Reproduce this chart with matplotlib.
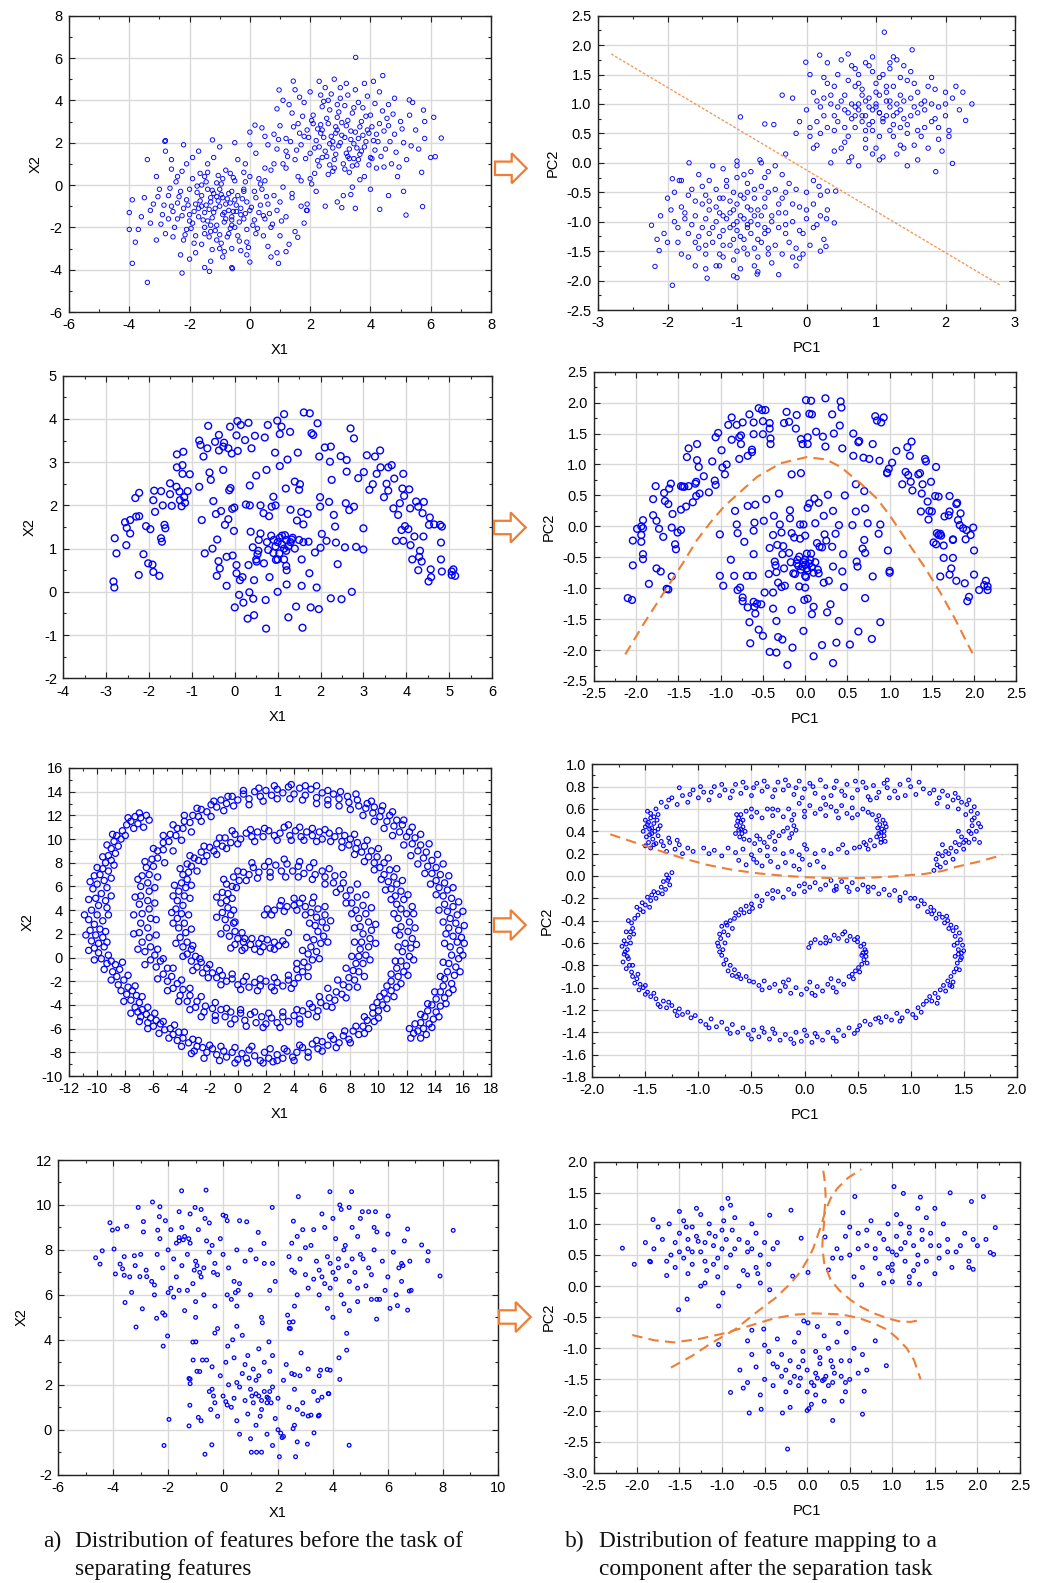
import numpy as np
import matplotlib
matplotlib.use("Agg")
import matplotlib.pyplot as plt
from matplotlib.ticker import MultipleLocator, AutoMinorLocator, FormatStrFormatter
from matplotlib.patches import Polygon

plt.rcParams['font.family'] = 'Liberation Sans'
plt.rcParams['axes.unicode_minus'] = False

W, H = 1048, 1583


def pts(s):
    # "x y, x y, ..." -> (n, 2) array
    return np.array(s.replace(',', ' ').split(), dtype=float).reshape(-1, 2)


# ---- row 1: two gaussian blobs ----
p1_low = pts("""
-1.0 -1.0, -1.3 -0.8, -0.7 -1.2, -1.5 -1.3, -0.5 -0.7, -1.2 -0.4, -0.8 -1.6, -1.8 -0.9, -0.3 -1.1, -1.1 -1.9,
-1.6 -0.5, -0.6 -0.3, -2.0 -1.4, -0.2 -1.6, -1.4 -1.7, -0.9 -0.6, -1.7 -1.1, -0.4 -0.5, -1.2 -1.3, -0.8 -0.9,
-2.1 -0.7, -0.1 -0.8, -1.5 -2.0, -0.6 -1.9, -1.9 -1.8, -1.0 -0.2, -0.3 -1.4, -1.3 -2.2, -2.2 -1.1, -0.7 -2.3,
0.0 -1.2, -1.6 0.0, -0.9 -1.4, -1.4 -0.2, -2.3 -0.3, -0.5 -2.0, -1.8 -2.4, 0.2 -0.6, -1.1 0.1, -2.4 -1.6,
0.1 -1.9, -0.2 -0.2, -1.7 -1.5, -0.6 -1.5, -1.1 -2.6, -2.0 -0.2, 0.3 -1.3, -0.4 -2.4, -1.5 0.4, -2.6 -1.0,
-1.3 -0.6, -0.9 0.3, -2.5 -2.0, 0.4 -0.2, -0.1 -2.7, -1.9 0.3, -1.6 -2.8, -0.5 0.2, 0.5 -1.6, -2.7 -0.5,
-1.0 -3.0, -2.2 -2.6, 0.6 -0.9, -0.8 0.7, -2.9 -1.4, 0.2 -2.3, -1.4 1.0, -2.4 0.4, 0.7 -2.0, -0.2 0.6,
-3.0 -0.2, -1.8 -3.2, 0.8 -0.5, -0.6 -3.0, -2.8 -2.3, -1.2 1.3, 0.9 -1.2, -3.2 -0.9, 0.3 0.3, -2.1 1.0,
-0.9 -3.4, 1.0 -2.4, -2.0 -3.5, -3.3 -1.8, 0.5 0.8, -1.7 1.6, -0.4 1.2, 1.1 -0.1, -3.5 -0.6, -1.3 -3.6,
0.6 -2.9, -2.6 1.2, 1.2 -1.5, -3.1 0.4, -0.1 -3.3, 1.3 -2.8, -2.3 -3.3, 0.2 1.5, -2.8 1.6, -3.6 -1.5,
-1.0 1.8, 1.4 -0.6, -3.7 -2.1, 0.7 -3.4, -0.6 -3.9, 1.5 -2.2, -2.2 1.9, 0.0 1.9, -3.4 1.2, 1.6 0.4,
-3.9 -0.7, -1.5 -3.9, 1.7 -1.0, 0.9 -3.2, -2.8 2.1, -4.0 -1.3, -3.9 -3.7, -3.4 -4.6, -2.25 -4.16, -1.34 -4.08,
-0.58 -3.95, 0.0 -3.64, 1.2 -3.15, 1.59 -2.47, 1.8 -1.8, 1.9 -1.2, -1.24 2.13, -2.82 2.06, -4.0 -2.1, -3.8 -2.7,
0.8 1.0, 1.2 0.8, -0.5 2.0, 0.95 -3.7, -1.15 -1.1, -0.85 -1.3, -1.45 -0.95, -0.65 -0.85, -1.25 -1.55, -0.95 -0.45,
-1.05 -0.75, -0.75 -0.65, -1.35 -1.15, -0.55 -1.25, -1.65 -0.75, -0.85 -1.75, -1.25 -0.25, -0.45 -0.95, -1.85 -1.25, -0.25 -0.65,
-1.55 -1.65, -0.65 -2.05, -2.05 -0.95, -0.15 -1.35, -1.15 -2.15, -0.95 0.05, -1.75 -0.35, -0.35 -1.75, -2.25 -1.45, 0.05 -1.05,
-1.45 0.15, -0.75 -2.45, -2.35 -0.55, 0.15 -1.65, -1.95 -2.05, -0.55 0.35, -1.35 -2.45, 0.35 -0.95, -2.55 -1.25, -0.15 0.15,
-1.65 0.55, -0.95 -2.75, 0.45 -1.45, -2.65 -0.15, -2.15 -2.35, 0.25 -2.05, -1.05 0.45, -0.35 -2.65, -2.45 0.15, 0.55 -0.55,
-1.85 -2.75, 0.65 -1.35, -0.65 0.55, -2.85 -0.95, -1.25 -3.05, 0.35 0.05, -2.25 0.65, -0.05 -2.95, 0.75 -1.85, -2.95 -1.85,
-0.2 -0.3, -1.6 -1.0, -0.7 -0.4, -1.3 -1.9, -2.0 -1.7, -0.1 -2.1, -1.5 -2.3, -0.45 -1.25, -2.4 -0.85, -1.1 -0.55,
-0.6 -1.65, -1.75 -0.05, -2.1 -2.1, 0.15 -0.3, -1.0 -2.35, -2.7 -1.6, 0.45 -2.4, -3.05 -0.55, -1.4 0.6, 0.0 0.4,
-0.85 -3.15, -2.55 -2.45, -3.3 -1.2, 1.0 -0.8, -1.9 1.3, -0.3 -3.1, -3.1 -2.6, 1.05 -1.7, -0.15 1.0, -2.6 0.75
""")
p1_high = pts("""
3.0 2.0, 2.7 2.3, 3.3 1.7, 2.5 1.6, 3.5 2.5, 2.8 1.2, 3.2 2.8, 2.2 2.1, 3.8 1.8, 2.6 2.9,
3.6 1.2, 2.0 1.5, 3.9 2.6, 2.4 2.6, 3.1 1.0, 2.9 3.2, 4.1 2.1, 1.9 2.6, 3.4 3.4, 2.3 0.9,
4.0 1.3, 2.1 3.3, 3.7 3.0, 2.6 0.5, 4.3 2.9, 1.7 1.9, 3.3 0.6, 2.9 3.8, 4.5 1.7, 1.6 2.9,
3.8 0.4, 2.4 3.7, 4.4 3.5, 1.5 1.2, 3.0 4.1, 4.8 2.4, 2.0 0.3, 3.6 3.9, 1.4 3.4, 4.2 0.8,
2.7 4.3, 5.0 3.0, 1.2 2.2, 3.4 -0.1, 4.7 1.0, 1.8 3.9, 3.9 4.2, 2.2 -0.3, 5.1 2.0, 1.1 1.0,
4.6 3.8, 2.5 4.6, 3.1 -0.5, 5.3 3.3, 1.3 3.8, 4.0 -0.2, 5.2 1.2, 1.0 2.8, 3.5 4.5, 0.9 1.7,
4.9 0.4, 2.0 4.4, 5.5 2.6, 1.7 0.2, 4.3 4.4, 2.9 -0.8, 5.6 1.7, 0.8 2.4, 3.2 4.8, 1.5 4.5,
5.4 3.9, 2.5 -1.0, 4.6 -0.5, 0.7 0.7, 5.8 3.0, 3.8 4.8, 1.4 -0.4, 5.8 2.2, 2.8 5.0, 0.6 1.9,
4.8 4.1, 6.0 1.3, 1.1 4.0, 3.5 -1.1, 5.1 -0.3, 0.4 2.7, 2.3 4.9, 6.1 3.2, 4.1 4.9, 0.9 3.6,
5.7 0.6, 1.9 -0.9, 0.5 0.2, 3.05 -1.07, 1.88 -1.2, 4.31 -1.15, 5.18 -1.42, 5.73 -1.02, 6.15 1.34, 6.35 2.22,
5.29 4.02, 5.76 3.54, 3.51 6.03, 4.41 5.17, 1.44 4.91, 0.97 4.49, 0.17 2.83, 0.0 2.5, 0.5 2.3, 3.0 4.6,
2.6 4.0, 3.6 2.2, 2.3 1.8, 3.2 1.5, 2.9 2.6, 3.7 1.6, 2.4 1.3, 4.2 2.4, 1.8 2.3, 3.4 0.9,
2.8 0.8, 4.0 3.3, 2.1 2.9, 4.6 2.8, 1.2 1.6, 3.15 2.25, 2.75 1.75, 3.45 1.95, 2.85 2.45, 3.3 1.25,
3.05 2.35, 2.65 1.95, 3.35 2.15, 2.45 2.25, 3.55 1.75, 2.85 1.45, 3.25 3.05, 2.15 1.75, 3.75 2.35, 2.55 3.15,
3.65 1.45, 1.95 2.25, 4.05 2.75, 2.35 2.85, 3.15 0.75, 2.95 3.45, 4.15 1.65, 1.85 1.25, 3.45 3.65, 2.25 1.15,
4.25 2.05, 2.05 3.05, 3.85 3.25, 2.75 0.65, 4.45 2.55, 1.65 2.45, 3.55 0.95, 2.65 3.55, 4.35 1.35, 1.55 1.65,
3.95 0.95, 2.45 3.95, 4.55 3.15, 1.35 2.05, 3.25 4.25, 4.65 2.05, 2.15 0.55, 3.75 3.65, 1.45 2.75, 4.45 0.85,
2.95 1.85, 3.35 2.55, 2.75 2.05, 3.85 2.05, 2.35 2.45, 3.25 1.35, 3.05 2.95, 2.55 1.35, 3.65 2.75, 4.05 1.25,
2.85 2.75, 3.45 1.25, 2.25 2.65, 3.95 2.45, 2.65 0.95, 3.15 3.75, 4.85 1.55, 1.75 3.25, 4.15 3.85, 2.05 0.05,
5.05 2.65, 1.25 1.35, 3.65 0.25, 4.75 3.35, 2.35 4.25, 5.35 1.85, 0.95 2.15, 3.35 -0.45, 4.95 0.85, 1.65 4.15
""")
p2_low = pts("""
-0.9 -0.95, -1.1 -0.85, -0.7 -1.05, -1.3 -1.0, -0.5 -0.9, -1.0 -0.7, -0.8 -1.2, -1.2 -1.15, -0.6 -0.75, -1.4 -0.8,
-0.4 -1.1, -0.95 -0.55, -1.05 -1.3, -0.75 -0.6, -1.5 -1.1, -0.3 -0.85, -1.2 -0.6, -0.65 -1.35, -1.6 -0.9, -0.2 -1.0,
-0.9 -1.45, -1.35 -1.35, -0.55 -0.5, -1.7 -1.2, -0.1 -0.75, -1.15 -0.4, -0.45 -1.4, -1.45 -0.55, -0.85 -0.35, -1.8 -0.75,
-0.05 -1.2, -1.25 -1.55, -0.35 -0.6, -1.55 -1.45, -0.7 -1.6, -1.0 -0.25, 0.0 -0.95, -1.9 -1.0, -0.25 -1.35, -1.65 -0.45,
-0.6 -0.25, -1.05 -1.65, 0.1 -0.7, -1.4 -0.3, -0.15 -0.45, -1.85 -1.35, -0.5 -1.7, 0.05 -1.4, -1.3 -1.75, -0.8 -0.15,
-2.0 -0.6, 0.15 -1.05, -1.7 -1.6, -0.35 -0.2, -0.95 -1.8, -1.55 -0.2, 0.2 -0.55, -2.05 -1.2, -0.2 -1.6, -1.2 -0.1,
-0.7 -1.85, 0.25 -1.3, -1.8 -0.3, -0.45 -0.05, -1.45 -1.8, 0.1 -0.3, -2.1 -0.9, -1.0 -0.05, -0.15 -1.75, 0.3 -0.8,
-1.6 -1.75, -0.65 0.0, -1.9 -0.5, 0.2 -1.5, -1.35 -0.05, -0.85 -0.5, -1.1 -1.1, -0.6 -1.1, -1.3 -0.75, -0.8 -0.8,
-1.0 -1.0, -0.4 -0.7, -1.5 -0.7, -0.7 -1.3, -1.1 -1.4, -0.3 -1.2, -1.2 -0.9, -0.9 -0.6, -1.69 0.0, -1.0 0.03,
-0.67 0.05, -2.23 -1.06, -2.18 -1.76, -1.93 -2.08, -1.43 -1.96, -1.05 -1.92, -0.71 -1.89, -0.10 -1.62, 0.4 -1.02, 0.29 -0.95,
0.28 -1.42, 0.18 -0.4, 0.3 -0.48, 0.42 -0.48, -1.93 -0.27, -1.83 -0.3, -2.15 -1.3, -2.12 -1.49, -1.2 -1.6, -0.55 -1.55,
-1.75 -0.95, 0.0 -0.5, -0.25 -0.35, -1.4 -1.2, -0.95 -1.25, -0.75 -0.9, -1.05 -0.8, -0.55 -1.15, -1.25 -1.25, -0.85 -1.05,
-0.95 -0.9, -0.8 -1.0, -1.15 -0.95, -0.65 -0.9, -1.25 -0.85, -0.85 -0.75, -1.0 -1.15, -0.7 -0.8, -1.35 -1.1, -0.5 -1.0,
-1.1 -0.65, -0.9 -1.3, -1.45 -0.95, -0.4 -0.85, -1.05 -0.5, -0.6 -1.2, -1.55 -1.25, -0.3 -1.05, -1.2 -1.4, -0.75 -0.45,
-1.65 -1.05, -0.2 -0.7, -1.0 -1.5, -0.45 -0.45, -1.4 -0.65, -0.85 -1.55, -1.75 -0.85, -0.1 -1.15, -1.3 -0.45, -0.55 -1.45,
-1.6 -1.35, -0.35 -1.55, -1.15 -0.3, -0.65 -0.4, -1.85 -1.1, 0.0 -0.8, -1.45 -1.55, -0.75 -1.75, -1.95 -0.8, -0.15 -1.45,
-1.25 -1.75, -0.9 -0.2, -1.7 -0.55, -0.4 -1.9, 0.1 -1.1, -2.0 -1.35, -0.55 -0.15, -1.5 -0.4, 0.2 -0.9, -1.0 -1.95,
-0.85 -1.1, -1.05 -1.05, -0.6 -0.6, -1.25 -0.6, -0.75 -1.45, -1.45 -1.4, -0.3 -0.5, -1.6 -0.65, -0.05 -1.55, -1.8 -1.55
""")
p2_high = pts("""
0.95 0.9, 0.75 1.0, 1.15 0.8, 0.6 0.85, 1.3 1.0, 0.9 0.65, 1.05 1.15, 0.5 1.05, 1.4 0.75, 0.8 1.25,
1.2 0.55, 0.4 0.8, 1.5 1.1, 0.7 0.6, 1.0 1.35, 0.35 1.15, 1.6 0.85, 0.85 0.4, 1.25 1.3, 0.3 0.6,
1.45 0.5, 0.6 1.4, 1.7 1.05, 0.55 0.35, 1.1 1.5, 0.2 0.95, 1.35 0.3, 0.95 1.55, 1.8 0.7, 0.45 1.5,
1.55 1.35, 0.15 0.7, 1.0 0.25, 1.9 0.95, 0.7 1.6, 1.3 0.15, 0.1 1.2, 1.65 0.45, 0.4 0.2, 2.0 0.8,
0.85 1.7, 1.5 1.55, 0.05 0.45, 1.85 1.25, 0.65 0.1, 1.2 1.7, 0.25 1.45, 2.1 1.1, 1.05 0.05, 1.75 0.25,
0.0 0.9, 1.4 1.65, 0.5 1.75, 2.05 0.55, 0.35 0.0, 1.6 0.05, 0.95 1.8, 2.15 1.3, 0.1 0.25, 1.9 0.4,
0.75 -0.05, 1.25 1.8, -0.1 0.7, 2.2 0.9, 0.3 1.7, 1.45 -0.05, 1.8 1.45, 0.6 1.85, 1.12 2.22, 1.52 1.92,
0.19 1.83, -0.01 1.71, -0.95 0.78, -0.6 0.66, -0.47 0.65, -0.3 0.15, 2.38 1.0, 2.29 0.72, 2.10 -0.01, 1.86 -0.15,
0.61 0.02, -0.2 1.1, -0.35 1.15, -0.15 0.5, 0.05 1.5, 1.0 1.0, 0.8 0.8, 1.1 0.7, 0.9 1.1, 0.7 0.95,
1.2 1.05, 0.65 0.75, 1.35 0.9, 0.85 0.55, 1.05 0.45, 0.55 0.6, 1.25 0.65, 1.15 1.2, 0.45 0.95, 1.55 0.95,
0.75 1.35, 0.25 1.1, 1.7 0.6, 1.35 1.45, 0.15 0.3, 2.0 1.2, 1.95 0.2, 0.95 0.15, 1.4 0.25, 1.05 0.85,
0.9 0.95, 1.05 0.85, 0.75 0.9, 1.2 0.95, 0.85 1.05, 1.1 0.75, 0.65 1.0, 1.3 0.85, 0.8 0.7, 1.0 1.2,
0.55 0.9, 1.4 1.05, 0.95 0.55, 1.15 1.3, 0.45 0.7, 1.5 0.8, 0.7 1.3, 1.25 0.45, 0.35 1.0, 1.6 1.2,
0.6 0.45, 1.05 1.45, 1.7 0.9, 0.4 1.3, 1.35 0.6, 0.85 0.25, 1.8 1.0, 0.25 0.8, 1.45 1.4, 0.75 1.5,
1.9 0.6, 0.2 0.5, 1.55 0.3, 1.2 1.6, 0.5 0.25, 2.0 1.0, 0.3 1.35, 1.75 1.3, 1.1 0.1, 0.65 1.65,
1.0 0.95, 0.85 0.8, 1.15 1.05, 0.95 0.7, 1.25 0.8, 0.7 0.8, 1.35 1.15, 0.55 1.15, 1.45 0.65, 0.8 1.15,
1.6 0.55, 0.4 0.55, 1.65 1.0, 0.15 1.05, 1.85 0.75, 0.9 1.65, 2.05 0.45, 0.05 0.6, 1.3 1.75, 2.25 1.2
""")
p2_line_x = [-2.81, 2.79]
p2_line_y = [1.85, -2.08]

# ---- row 2: half moon + centre blob ----
p3_pts = pts("""
-2.83 0.24, -2.81 0.10, -2.8 1.24, -2.76 0.89, -2.56 1.61, -2.53 1.08, -2.52 1.48, -2.44 1.35, -2.44 1.66, -2.32 2.17,
-2.23 2.29, -2.3 1.74, -2.23 1.75, -2.24 0.39, -2.13 0.87, -2.07 1.52, -1.97 1.45, -2.02 0.66, -1.92 0.63, -1.9 0.46,
-1.88 2.34, -1.9 2.12, -1.86 1.85, -1.76 0.37, -1.72 2.33, -1.72 1.24, -1.7 1.16, -1.68 2.0, -1.64 1.55, -1.62 1.47,
-1.51 2.51, -1.51 2.26, -1.47 1.99, -1.36 2.43, -1.35 3.18, -1.35 2.88, -1.29 2.32, -1.28 2.12, -1.24 1.98, -1.22 2.93,
-1.22 2.73, -1.2 3.24, -1.18 2.19, -1.16 2.06, -1.1 2.33, -1.05 2.72, -0.83 3.5, -0.83 2.43, -0.77 1.66, -0.8 3.4,
-0.73 3.13, -0.7 0.89, -0.62 3.84, -0.64 3.32, -0.59 2.76, -0.56 2.59, -0.5 2.1, -0.52 1.0, -0.46 3.47, -0.44 1.8,
-0.41 1.21, -0.38 0.71, -0.42 0.37, -0.37 3.27, -0.37 3.63, -0.32 1.87, -0.35 0.54, -0.27 3.36, -0.23 1.55, -0.27 2.82,
-0.25 3.45, -0.19 0.81, -0.19 0.14, -0.15 3.32, -0.15 1.68, -0.13 2.35, -0.11 3.82, -0.1 2.4, -0.07 3.2, -0.06 1.92,
-0.05 0.84, -0.02 1.41, -0.01 1.95, 0.0 -0.36, 0.04 3.62, 0.06 3.95, 0.04 0.62, 0.04 0.43, 0.07 3.26, 0.1 -0.07,
0.12 0.27, 0.14 3.86, 0.18 0.34, 0.2 -0.25, 0.24 3.51, 0.26 2.02, 0.3 -0.62, 0.32 0.62, 0.32 3.91, 0.34 -0.01,
0.35 2.46, 0.35 2.0, 0.37 1.39, 0.39 3.32, 0.42 1.03, 0.43 -0.16, 0.45 -0.54, 0.45 0.27, 0.47 3.61, 0.5 2.69,
0.51 0.7, 0.53 0.87, 0.56 1.2, 0.6 2.0, 0.67 1.82, 0.68 0.66, 0.7 3.57, 0.72 -0.19, 0.73 -0.85, 0.74 2.82,
0.77 3.86, 0.78 0.97, 0.81 0.34, 0.86 1.97, 0.9 2.2, 0.91 1.2, 0.94 3.22, 0.96 0.74, 0.99 3.96, 1.0 0.0,
1.04 0.89, 1.05 2.91, 1.05 3.65, 1.09 3.82, 1.15 4.11, 1.17 1.31, 1.19 2.39, 1.23 3.06, 1.25 -0.59, 1.21 0.17,
1.21 0.5, 1.29 3.7, 1.33 1.21, 1.4 2.55, 1.43 -0.34, 1.47 3.22, 1.5 2.36, 1.52 2.49, 1.56 0.75, 1.56 0.14,
1.58 -0.83, 1.61 4.15, 1.6 1.56, 1.72 1.16, 1.75 4.13, 1.74 0.43, 1.77 -0.36, 1.79 3.67, 1.83 3.63, 1.87 0.91,
1.91 0.1, 1.93 3.9, 1.96 -0.4, 1.97 3.13, 1.99 2.19, 1.99 1.97, 2.0 1.02, 2.03 1.34, 2.1 3.34, 2.14 1.18,
2.2 2.08, 2.22 3.01, 2.24 -0.15, 2.24 3.36, 2.26 2.59, 2.31 1.78, 2.34 1.51, 2.36 1.14, 2.4 0.64, 2.47 3.14,
2.49 -0.17, 2.57 1.03, 2.59 2.05, 2.61 3.05, 2.61 2.78, 2.67 1.89, 2.7 3.78, 2.73 0.0, 2.78 1.97, 2.78 3.55,
2.83 1.04, 2.88 2.63, 3.0 1.47, 3.0 0.98, 3.01 2.77, 3.08 3.16, 3.14 2.36, 3.22 2.49, 3.27 3.13, 3.31 2.73,
3.39 3.27, 3.4 2.88, 3.48 2.19, 3.54 2.5, 3.58 2.34, 3.58 2.88, 3.66 2.93, 3.7 1.93, 3.72 2.62, 3.76 1.18,
3.81 1.78, 3.85 2.05, 3.89 1.43, 3.91 2.39, 3.93 2.73, 3.93 1.18, 3.95 2.22, 3.97 1.52, 4.05 1.45, 4.07 2.37,
4.09 1.93, 4.1 1.08, 4.14 0.75, 4.19 1.28, 4.23 2.09, 4.28 0.5, 4.28 1.97, 4.3 0.81, 4.32 0.95, 4.36 0.7,
4.38 1.82, 4.41 2.08, 4.4 1.28, 4.52 0.24, 4.53 1.55, 4.55 1.72, 4.57 0.52, 4.58 0.34, 4.65 1.56, 4.79 1.55,
4.81 0.75, 4.83 0.47, 4.81 1.14, 4.83 1.51, 5.06 0.47, 5.1 0.52, 5.06 0.39, 5.14 0.37,
1.1 1.1, 1.2 1.2, 1.0 1.15, 1.15 1.0, 1.25 1.05, 1.05 1.25, 1.3 1.15, 0.95 1.05, 1.2 0.95, 1.1 1.3,
1.35 1.25, 0.9 0.9, 1.4 1.0, 1.5 1.2, 1.6 1.15, 0.85 1.3, 1.0 0.75, 1.2 0.6, 1.15 0.75, 0.75 1.15,
0.6 1.35, 0.5 0.75, 0.55 0.95, 1.55 1.85, 1.45 1.65, 0.8 1.75, 0.95 2.0, 1.3 1.9, 1.7 1.8
""")
p4_pts = pts("""
-2.1 -1.16, -2.05 -1.19, -2.04 -0.63, -2.04 -0.23, -1.99 -0.04, -1.94 0.0, -1.94 -0.14, -1.94 -0.25, -1.92 0.1, -1.92 -0.45,
-1.92 -0.53, -1.92 -0.03, -1.85 -0.93, -1.8 0.18, -1.8 0.44, -1.77 0.65, -1.76 0.09, -1.76 -0.68, -1.73 -0.04, -1.71 -0.73,
-1.68 -0.17, -1.67 0.54, -1.66 0.41, -1.64 -1.01, -1.62 0.36, -1.62 -1.02, -1.61 0.61, -1.59 0.69, -1.57 0.2, -1.58 -0.02,
-1.58 -0.81, -1.54 -0.29, -1.53 -0.37, -1.51 -0.1, -1.47 -0.06, -1.47 0.27, -1.47 0.65, -1.45 0.64, -1.43 0.64, -1.41 0.32,
-1.4 1.12, -1.38 1.26, -1.38 0.65, -1.33 0.39, -1.3 0.69, -1.29 0.72, -1.29 0.49, -1.28 1.33, -1.28 1.07, -1.26 0.96,
-1.25 0.53, -1.2 0.81, -1.14 0.55, -1.1 1.05, -1.07 0.74, -1.06 1.44, -1.06 0.67, -1.03 1.51, -1.01 -0.13, -1.01 -0.8,
-0.99 1.23, -0.98 0.95, -0.97 -0.96, -0.95 0.84, -0.93 1.0, -0.91 1.64, -0.88 -0.54, -0.87 1.4, -0.87 1.76, -0.84 -0.8,
-0.83 0.25, -0.81 1.64, -0.81 0.03, -0.8 -1.03, -0.8 -0.11, -0.78 1.44, -0.78 1.09, -0.77 -0.99, -0.76 1.47, -0.76 1.33,
-0.74 -1.15, -0.74 1.68, -0.74 -1.21, -0.72 -0.25, -0.69 -0.8, -0.68 -1.31, -0.68 0.33, -0.68 1.14, -0.66 -1.55, -0.66 1.81,
-0.65 -1.89, -0.63 1.24, -0.63 1.2, -0.62 -0.8, -0.61 -0.45, -0.61 -1.22, -0.61 1.68, -0.61 -0.07, -0.61 1.49, -0.6 0.06,
-0.59 0.35, -0.6 -1.3, -0.59 -1.41, -0.57 -1.25, -0.55 1.91, -0.55 -1.67, -0.52 -1.26, -0.51 1.88, -0.5 -1.77, -0.5 1.7,
-0.5 1.49, -0.49 0.09, -0.48 -1.07, -0.47 1.88, -0.46 0.44, -0.43 -0.77, -0.42 -0.35, -0.42 -2.03, -0.42 1.67, -0.42 1.58,
-0.41 1.33, -0.41 1.42, -0.38 -1.33, -0.38 -1.07, -0.38 -0.14, -0.37 0.17, -0.36 -0.57, -0.35 -0.63, -0.34 -0.74, -0.34 -2.04,
-0.34 -1.53, -0.33 -0.3, -0.32 -0.91, -0.32 -1.79, -0.31 0.53, -0.3 0.03, -0.28 -0.98, -0.28 -0.1, -0.27 -0.45, -0.27 -1.83,
-0.26 -0.32, -0.25 1.67, -0.25 -0.68, -0.24 -0.96, -0.22 1.85, -0.21 -2.24, -0.19 -0.43, -0.19 1.69, -0.18 0.26, -0.18 0.13,
-0.17 -0.58, -0.16 -0.11, -0.16 -1.35, -0.16 0.84, -0.15 -1.96, -0.14 -0.76, -0.13 -0.18, -0.11 1.58, -0.1 1.8, -0.09 -0.54,
-0.07 -0.97, -0.07 -0.49, -0.06 0.03, -0.06 -0.2, -0.05 1.41, -0.05 0.86, -0.03 1.33, -0.02 0.03, -0.02 -1.69, -0.01 -1.19,
0.0 -0.15, 0.0 -0.54, 0.0 -0.99, 0.01 2.04, 0.01 -0.82, 0.02 -0.44, 0.03 1.33, 0.03 1.44, 0.03 0.3, 0.03 -1.17,
0.05 1.82, 0.05 0.37, 0.06 -0.54, 0.07 2.03, 0.07 -0.44, 0.08 -1.42, 0.08 1.81, 0.1 -2.1, 0.1 -1.3, 0.11 0.45,
0.12 0.05, 0.13 1.53, 0.14 -0.27, 0.16 -0.76, 0.16 0.38, 0.17 -0.33, 0.2 -0.34, 0.2 -1.92, 0.21 1.45, 0.22 -0.91,
0.22 0.17, 0.23 -0.13, 0.24 1.29, 0.24 2.07, 0.25 -0.23, 0.26 -1.39, 0.27 0.51, 0.28 -0.88, 0.3 -1.26, 0.32 1.81,
0.32 -0.33, 0.33 -2.21, 0.33 0.25, 0.33 -0.65, 0.34 1.5, 0.36 -0.12, 0.37 -1.88, 0.4 -1.53, 0.4 0.02, 0.41 1.63,
0.42 2.02, 0.43 1.92, 0.44 -0.73, 0.44 1.26, 0.45 -0.45, 0.46 -0.98, 0.47 0.5, 0.53 -1.91, 0.56 0.02, 0.57 1.5,
0.57 1.14, 0.6 0.68, 0.6 0.24, 0.61 -0.57, 0.62 -0.65, 0.63 -1.7, 0.63 1.36, 0.64 1.38, 0.68 -0.36, 0.69 1.11,
0.7 -0.22, 0.7 0.57, 0.71 0.29, 0.71 -0.43, 0.71 -1.16, 0.74 0.05, 0.76 1.09, 0.79 -1.82, 0.8 -0.81, 0.8 1.33,
0.83 1.78, 0.85 1.71, 0.87 -0.12, 0.88 1.06, 0.89 0.03, 0.89 -1.55, 0.9 1.68, 0.93 1.76, 0.97 0.86, 0.97 0.87,
0.99 0.93, 0.98 -0.39, 1.0 -0.72, 1.0 -0.75, 1.03 1.03, 1.08 1.22, 1.15 0.68, 1.19 0.88, 1.21 1.28, 1.22 0.83,
1.24 1.14, 1.25 0.72, 1.26 1.37, 1.27 0.58, 1.34 0.84, 1.36 0.86, 1.37 0.24, 1.38 0.53, 1.39 0.68, 1.42 1.09,
1.43 1.05, 1.45 0.4, 1.46 0.11, 1.47 0.25, 1.49 0.72, 1.5 0.24, 1.52 -0.26, 1.54 0.49, 1.55 -0.29, 1.55 0.96,
1.56 -0.11, 1.58 0.48, 1.58 -0.14, 1.6 -0.12, 1.6 -0.81, 1.61 -0.15, 1.64 -0.51, 1.64 -0.31, 1.65 0.16, 1.7 0.18,
1.71 -0.78, 1.71 0.49, 1.71 0.24, 1.73 -0.68, 1.75 -0.22, 1.75 -0.51, 1.75 -0.21, 1.79 -0.88, 1.79 0.36, 1.8 0.38,
1.81 0.1, 1.83 0.02, 1.84 0.21, 1.87 -0.03, 1.89 -0.92, 1.9 -0.21, 1.91 -0.06, 1.92 -1.21, 1.94 -1.14, 1.96 -0.14,
1.99 -0.02, 2.0 -0.39, 2.0 -0.78, 2.06 -1.03, 2.12 -0.95, 2.14 -0.88, 2.16 -0.97, 2.16 -1.03,
0.0 -0.62, 0.02 -0.68, -0.03 -0.65, 0.05 -0.6, -0.05 -0.7, 0.03 -0.72, -0.02 -0.58, 0.08 -0.66, -0.08 -0.64, 0.1 -0.75,
-0.1 -0.6, 0.12 -0.58, 0.0 -0.8, -0.12 -0.77, 0.15 -0.7
""")
p4_curve_x = [-2.13, -1.9, -1.63, -1.45, -1.28, -1.1, -0.96, -0.75, -0.57, -0.29, 0.02, 0.25, 0.42, 0.66, 0.85, 1.01, 1.2, 1.41, 1.6, 1.76, 1.98]
p4_curve_y = [-2.07, -1.55, -0.98, -0.6, -0.22, 0.1, 0.32, 0.58, 0.8, 1.02, 1.12, 1.08, 0.96, 0.69, 0.45, 0.16, -0.23, -0.65, -1.07, -1.46, -2.05]

# ---- row 3: two-spirals ----
p5_arm_a = pts("""
-6.5 12.0, -6.9 11.8, -7.3 11.9, -7.6 11.5, -7.1 11.3, -6.7 11.0, -7.9 11.2, -7.4 10.9, -8.2 10.7, -8.6 10.3,
-8.3 10.0, -8.8 9.8, -8.5 9.4, -9.0 9.2, -8.7 8.8, -9.2 8.6, -9.4 8.0, -9.0 8.2, -9.6 7.5, -9.2 7.3,
-9.8 7.0, -10.2 6.9, -9.5 6.5, -10.0 6.2, -9.3 5.9, -10.3 5.8, -9.7 5.4, -10.1 5.0, -9.4 4.8, -9.9 4.4,
-9.3 4.2, -10.4 4.0, -10.0 3.6, -10.6 3.2, -9.6 3.1, -10.2 2.8, -9.8 2.4, -10.5 2.3, -10.1 1.9, -9.6 1.7,
-10.4 1.4, -9.9 1.2, -10.2 0.8, -9.5 0.9, -9.9 0.4, -9.7 -0.1, -9.3 -0.5, -9.0 -0.3, -8.7 -0.6, -8.9 -1.2,
-8.4 -1.0, -8.6 -1.6, -8.1 -1.9, -8.5 -2.3, -7.8 -2.5, -7.5 -2.8, -7.9 -3.1, -7.2 -3.2, -7.6 -3.6, -7.0 -3.8,
-7.3 -4.2, -6.8 -4.4, -7.1 -4.6, -6.5 -4.8, -6.9 -5.0, -6.2 -5.1, -6.4 -5.5, -5.8 -5.3, -6.0 -5.8, -5.5 -5.6,
-5.2 -6.1, -4.8 -6.0, -4.6 -6.5, -4.2 -6.3, -3.9 -6.8, -4.3 -7.0, -3.5 -7.2, -3.2 -6.9, -2.9 -7.5, -3.1 -7.9,
-2.5 -7.6, -2.2 -8.0, -1.8 -7.7, -1.5 -8.2, -1.0 -7.9, -0.8 -8.4, -0.4 -8.0, 0.0 -8.6, 0.3 -8.1, 0.6 -8.5,
0.8 -7.8, 1.2 -8.3, 1.6 -8.7, 1.9 -8.0, 2.2 -8.5, 2.5 -8.8, 2.8 -8.2, 3.2 -8.5, 3.5 -7.9, 3.9 -8.4,
4.2 -8.0, 4.6 -7.6, 5.0 -8.0, 5.3 -7.3, 5.7 -7.7, 6.0 -7.1, 6.4 -7.4, 6.8 -6.9, 7.2 -7.2, 7.5 -6.6,
7.9 -6.9, 8.2 -6.2, 8.6 -6.5, 8.9 -5.8, 9.3 -6.0, 9.2 -5.3, 9.7 -5.4, 9.6 -4.7, 10.0 -4.5, 10.3 -4.0,
9.9 -3.8, 10.6 -3.5, 10.4 -3.0, 10.9 -2.8, 11.3 -2.5, 10.9 -2.0, 11.4 -1.6, 11.8 -1.2, 11.3 -0.9, 12.0 -0.7,
11.6 -0.3, 12.2 0.1, 11.7 0.5, 12.3 0.8, 11.9 1.2, 12.4 1.6, 11.5 1.9, 12.1 2.2, 11.6 2.6, 12.2 3.0,
11.4 3.3, 12.0 3.7, 11.6 4.1, 12.5 3.7, 11.3 4.5, 11.8 4.9, 11.2 5.2, 11.6 5.6, 10.9 5.8, 11.3 6.2,
10.7 6.4, 11.1 6.8, 10.4 7.0, 10.8 7.4, 10.1 7.6, 10.4 8.0, 9.7 8.0, 9.9 8.5, 9.3 8.5, 9.5 9.0,
8.8 8.9, 9.0 9.4, 8.4 9.2, 8.5 9.7, 7.9 9.5, 8.0 10.0, 7.4 9.8, 7.6 10.3, 6.9 10.2, 6.5 10.5,
6.0 10.0, 5.8 10.6, 5.3 10.3, 4.9 10.6, 4.5 10.2, 4.1 10.7, 3.7 10.3, 3.3 11.0, 3.0 10.5, 2.6 10.3,
2.2 10.7, 1.8 10.2, 1.4 10.6, 1.0 10.2, 0.6 10.5, 0.2 10.0, -0.2 10.4, -0.5 9.7, -0.9 10.1, -1.1 9.4,
-1.5 9.6, -1.7 9.0, -2.0 9.3, -2.2 8.6, -2.6 8.9, -2.8 8.2, -3.1 8.4, -3.3 7.7, -3.6 7.9, -3.5 7.2,
-3.9 7.0, -3.6 6.6, -4.0 6.3, -3.7 5.9, -4.2 5.6, -3.8 5.2, -4.3 4.8, -3.9 4.4, -4.4 4.1, -4.0 3.7,
-4.3 3.3, -3.8 2.9, -4.2 2.5, -3.7 2.1, -4.1 1.7, -3.6 1.3, -3.9 0.9, -3.3 0.7, -3.6 0.3, -3.0 0.1,
-3.3 -0.3, -2.6 -0.4, -2.9 -0.8, -2.2 -0.9, -2.5 -1.3, -1.8 -1.3, -1.5 -1.7, -1.1 -1.5, -0.8 -2.0, -0.4 -1.8,
0.0 -2.3, 0.4 -2.0, 0.8 -2.5, 1.2 -2.1, 1.6 -2.4, 2.0 -2.0, 2.4 -2.5, 2.8 -2.1, 3.2 -2.4, 3.6 -1.9,
4.0 -2.2, 4.3 -1.7, 4.6 -1.2, 4.2 -1.0, 5.0 -0.8, 4.7 -0.4, 5.3 -0.2, 5.0 0.3, 5.6 0.5, 5.2 0.9,
5.9 1.2, 5.4 1.5, 6.1 1.8, 5.7 2.2, 6.3 2.5, 5.5 2.7, 6.0 3.0, 5.6 3.4, 6.2 3.6, 5.2 3.8,
5.7 4.1, 4.8 4.3, 5.3 4.6, 4.4 4.6, 4.6 5.0, 4.0 4.4, 3.5 4.3, 3.0 4.4, 2.6 4.0, 2.1 4.1,
1.9 3.6, 3.6 2.1,
-6.3 11.6, -7.0 12.2, -7.8 11.8, -8.0 10.3, -8.9 10.4, -9.3 9.5, -9.6 8.5, -8.8 7.8, -10.0 7.6, -9.0 6.7,
-10.5 6.4, -9.0 5.2, -10.6 4.9, -9.2 3.6, -10.9 3.6, -9.4 2.2, -10.8 1.9, -9.3 1.3, -10.6 0.6, -9.2 0.2,
-10.2 -0.2, -9.5 -1.0, -8.2 -0.4, -9.0 -1.9, -7.8 -1.5, -8.3 -2.8, -7.3 -2.4, -8.1 -3.7, -6.8 -3.3, -7.6 -4.7,
-6.4 -4.2, -7.0 -5.4, -5.9 -4.7, -6.4 -6.0, -5.3 -5.4, -5.6 -6.4, -4.5 -5.7, -4.9 -6.8, -3.8 -6.3, -4.0 -7.5,
-2.8 -7.0, -3.3 -8.1, -2.0 -7.4, -2.4 -8.5, -1.2 -7.5, -1.3 -8.7, -0.2 -7.6, -0.2 -8.9, 0.7 -8.9, 1.0 -7.5,
1.8 -8.9, 2.3 -7.7, 2.8 -8.7, 3.3 -7.7, 4.0 -8.7, 4.4 -7.4, 5.0 -8.4, 5.6 -7.0, 6.0 -7.9, 6.6 -6.6,
7.0 -7.6, 7.6 -6.2, 8.0 -7.2, 8.4 -5.8, 9.0 -6.4, 9.0 -5.0, 10.0 -5.1, 9.6 -4.2, 10.6 -4.3, 10.1 -3.3,
11.1 -3.3, 10.6 -2.4, 11.6 -2.2, 10.9 -1.4, 12.1 -1.5, 11.2 -0.3, 12.5 -0.2, 11.4 0.9, 12.7 1.1, 11.2 2.3,
12.6 2.5, 11.1 3.7, 12.4 4.3, 10.9 4.9, 12.1 5.3, 10.5 5.7, 11.7 6.5, 10.2 6.6, 11.3 7.5, 9.7 7.4,
10.7 8.4, 9.0 8.1, 10.0 9.2, 8.3 8.7, 9.2 9.9, 7.4 9.3, 8.3 10.4, 6.6 9.8, 7.2 10.7, 5.6 9.8,
6.2 10.8, 4.7 9.9, 5.3 10.9, 3.8 9.9, 4.4 11.0, 2.8 9.9, 3.6 11.2, 1.9 10.9, 1.2 9.8, 0.9 10.8,
0.0 9.6, -0.4 10.7, -0.8 9.2, -1.3 10.1, -1.5 8.7, -2.4 9.4, -2.4 8.1, -3.4 8.6, -2.9 7.3, -4.1 7.5,
-3.3 6.1, -4.5 6.1, -3.4 5.0, -4.6 5.2, -3.5 3.6, -4.7 3.8, -3.3 2.4, -4.6 2.9, -3.2 1.0, -4.4 1.2,
-2.7 -0.1, -3.9 0.1, -2.0 -0.6, -3.2 -1.1, -1.3 -1.1, -2.1 -1.7, -0.4 -1.4, -1.2 -2.3, 0.6 -1.6, 0.2 -2.7,
1.6 -1.8, 1.4 -2.8, 2.6 -1.7, 2.6 -2.8, 3.6 -1.5, 3.8 -2.6, 4.2 -0.5, 5.0 -1.6, 4.6 0.6, 5.8 -0.1,
4.9 1.7, 6.4 1.3, 5.1 2.9, 6.6 3.1, 4.8 3.6, 6.2 4.3, 4.2 4.0, 5.4 5.1, 3.3 3.9, 4.0 5.0,
2.4 3.6, 3.1 4.8
""")
p5_arm_b = pts("""
13.0 -6.8, 12.5 -6.4, 12.2 -6.0, 12.8 -6.2, 13.2 -6.0, 13.0 -5.5, 13.6 -5.6, 13.3 -5.0, 13.9 -5.2, 13.5 -4.5,
14.1 -4.6, 13.8 -4.0, 14.4 -4.1, 14.1 -3.5, 14.7 -3.4, 14.4 -2.9, 15.0 -3.0, 14.6 -2.4, 15.2 -2.2, 14.7 -1.8,
15.4 -1.5, 14.9 -1.2, 15.5 -0.8, 15.0 -0.5, 15.7 -0.1, 15.2 0.2, 15.8 0.6, 15.1 0.9, 15.6 1.3, 15.9 1.7,
15.3 1.8, 15.7 2.3, 15.0 2.5, 15.5 2.9, 15.1 3.3, 15.6 3.6, 14.9 3.9, 15.3 4.3, 14.7 4.5, 15.2 5.0,
14.6 5.2, 14.9 5.7, 14.3 5.9, 14.7 6.3, 14.1 6.5, 14.4 7.0, 13.8 7.1, 14.1 7.6, 13.5 7.7, 13.8 8.2,
13.2 8.4, 13.4 8.9, 12.8 9.0, 13.0 9.5, 12.4 9.6, 12.6 10.1, 12.0 10.2, 12.2 10.6, 11.5 10.6, 11.7 11.2,
11.1 11.1, 11.3 11.6, 10.6 11.5, 10.8 12.0, 10.1 11.9, 10.2 12.4, 9.6 12.2, 9.7 12.7, 9.1 12.6, 9.2 13.0,
8.6 12.8, 8.5 13.3, 7.9 13.1, 7.8 13.6, 7.2 13.4, 6.8 13.8, 6.4 13.3, 6.0 13.9, 5.6 13.5, 5.2 14.2,
4.8 13.7, 4.4 14.3, 4.0 13.8, 3.6 14.4, 3.2 13.9, 2.8 14.2, 2.4 13.7, 2.0 14.1, 1.6 13.6, 1.2 14.0,
0.8 13.4, 0.4 13.8, 0.0 13.3, -0.4 13.6, -0.8 13.0, -1.2 13.3, -1.5 12.7, -1.9 12.9, -2.2 12.3, -2.6 12.5,
-2.8 11.9, -3.2 12.0, -3.4 11.4, -3.8 11.5, -3.9 10.9, -4.3 10.9, -4.4 10.3, -4.8 10.4, -4.9 9.8, -5.3 9.7,
-5.3 9.1, -5.7 9.0, -5.7 8.4, -6.1 8.3, -6.0 7.7, -6.5 7.6, -6.3 7.0, -6.8 6.9, -6.4 6.3, -6.9 6.0,
-6.3 5.6, -6.9 5.2, -6.4 4.8, -7.0 4.5, -6.3 4.1, -6.8 3.7, -6.2 3.3, -6.9 2.9, -6.4 2.5, -7.0 2.1,
-6.3 1.7, -6.8 1.3, -6.2 0.9, -6.6 0.5, -5.9 0.2, -6.2 -0.2, -5.5 -0.3, -5.8 -0.8, -5.0 -0.9, -5.3 -1.4,
-4.7 -1.6, -5.0 -2.0, -4.3 -2.2, -4.6 -2.6, -3.9 -2.7, -4.1 -3.2, -3.4 -3.2, -3.6 -3.7, -2.9 -3.7, -3.0 -4.2,
-2.3 -4.1, -2.4 -4.6, -1.8 -4.3, -1.6 -4.9, -1.2 -4.4, -0.9 -5.0, -0.5 -4.6, -0.2 -5.2, 0.2 -4.7, 0.5 -5.3,
0.9 -4.8, 1.3 -5.5, 1.7 -5.0, 2.0 -5.6, 2.4 -5.1, 2.8 -5.5, 3.2 -5.0, 3.6 -5.4, 4.0 -4.9, 4.4 -5.2,
4.6 -4.5, 5.0 -4.8, 5.3 -4.2, 5.7 -4.5, 5.9 -3.8, 6.3 -4.1, 6.5 -3.4, 6.9 -3.6, 7.0 -2.9, 7.4 -3.1,
7.5 -2.3, 7.9 -2.5, 7.9 -1.7, 8.3 -1.9, 8.2 -1.1, 8.6 -1.2, 8.4 -0.5, 8.9 -0.5, 8.6 0.1, 9.1 0.2,
8.7 0.7, 9.3 0.9, 8.8 1.3, 9.4 1.6, 8.9 2.0, 9.5 2.3, 8.7 2.6, 9.3 3.0, 8.6 3.3, 9.1 3.7,
8.4 4.0, 8.9 4.4, 8.1 4.6, 8.5 5.1, 7.7 5.2, 8.0 5.7, 7.3 5.8, 7.5 6.3, 6.8 6.3, 6.9 6.9,
6.2 6.8, 6.0 7.3, 5.5 7.0, 5.1 7.6, 4.7 7.1, 4.3 7.7, 3.9 7.3, 3.5 7.9, 3.1 7.3, 2.7 7.8,
2.3 7.2, 1.9 7.7, 1.5 7.2, 1.1 7.6, 0.8 7.0, 0.4 7.2, 0.1 6.5, -0.3 6.8, -0.4 6.0, -0.8 6.2,
-0.7 5.4, -1.1 5.5, -0.8 4.8, -1.2 4.6, -0.7 4.2, -1.1 3.8, -0.5 3.6, -0.9 3.2, -0.3 2.9, -0.8 2.5,
-0.2 2.2, -0.6 1.8, 0.0 1.6, -0.2 1.1, 0.4 1.3, 0.5 0.8, 0.9 1.1, 1.2 0.7, 1.5 1.2, 1.8 0.9,
2.1 1.5, 2.3 0.8, 2.6 1.3, 2.9 1.0, 3.2 1.4,
12.3 -6.8, 13.4 -6.5, 12.6 -5.6, 13.8 -5.9, 13.0 -4.8, 14.3 -5.0, 13.5 -3.9, 14.8 -3.9, 14.0 -2.9, 15.3 -2.7,
14.4 -1.6, 15.8 -1.2, 14.6 -0.4, 16.0 0.2, 14.7 1.2, 16.1 1.2, 14.8 2.0, 16.1 2.7, 14.6 3.0, 16.0 3.9,
14.3 4.0, 15.7 4.7, 14.1 5.3, 15.3 5.9, 13.7 6.2, 15.0 6.9, 13.3 7.1, 14.6 7.9, 12.8 7.9, 14.2 8.7,
12.3 8.6, 13.6 9.6, 11.8 9.5, 13.0 10.4, 11.0 10.3, 12.4 11.0, 10.4 10.9, 11.8 11.6, 9.7 11.5, 11.0 12.3,
8.9 12.0, 10.3 12.8, 8.0 12.5, 9.5 13.2, 7.2 12.8, 8.4 13.8, 6.4 12.9, 7.3 14.0, 5.6 13.0, 6.4 14.1,
4.6 13.3, 5.6 14.5, 3.7 13.4, 4.8 14.5, 2.8 13.4, 3.8 14.6, 1.8 13.2, 2.6 14.5, 0.8 12.9, 1.5 14.3,
-0.3 12.8, 0.4 14.1, -1.0 12.4, -0.7 13.6, -1.9 11.9, -1.7 13.2, -2.6 11.5, -2.9 12.6, -3.3 10.6, -3.8 12.0,
-4.0 9.9, -4.6 11.2, -4.6 9.0, -5.3 10.3, -5.2 8.0, -6.0 9.2, -5.7 6.8, -6.6 8.1, -5.9 5.9, -7.1 6.6,
-5.9 4.6, -7.3 5.1, -5.8 3.2, -7.4 3.6, -5.8 1.9, -7.4 2.0, -5.7 0.7, -7.1 0.7, -5.3 -0.1, -6.6 -0.6,
-4.6 -0.9, -5.7 -1.8, -4.0 -1.9, -5.0 -2.8, -3.4 -2.6, -4.2 -3.7, -2.6 -3.3, -3.4 -4.4, -1.6 -3.8, -2.6 -5.0,
-0.8 -4.3, -1.6 -5.3, 0.2 -4.4, -0.5 -5.6, 1.2 -4.6, 0.6 -5.8, 2.2 -4.7, 1.8 -5.9, 3.2 -4.6, 3.0 -5.9,
4.2 -4.4, 4.4 -5.6, 5.1 -3.9, 5.6 -5.0, 5.8 -3.3, 6.7 -4.2, 6.4 -2.6, 7.7 -3.4, 7.1 -1.9, 8.5 -2.5,
7.7 -0.9, 9.0 -1.6, 8.1 0.1, 9.4 -0.2, 8.3 1.3, 9.8 1.2, 8.3 2.5, 9.8 2.8, 8.1 3.7, 9.5 4.2,
7.7 4.6, 9.1 5.3, 7.0 5.5, 8.5 6.2, 6.2 6.2, 7.5 7.0, 5.3 6.6, 6.5 7.5, 4.3 6.8, 5.4 8.0,
3.4 6.8, 4.4 8.1, 2.3 6.8, 3.3 8.3, 1.4 6.7, 2.2 8.1, 0.6 6.5, 1.0 8.0, -0.1 5.9, 0.0 7.3,
-0.4 5.0, -1.0 6.6, -0.3 4.0, -1.5 5.1, -0.2 3.0, -1.5 3.4, 0.3 2.1, -1.2 2.0, 0.5 1.6, -0.5 0.8,
1.0 1.6, 0.3 0.6, 1.7 1.6, 1.6 0.5, 2.6 0.7, 3.4 1.1
""")
p6_upper = pts("""
1.22 0.05, 1.25 0.1, 1.24 0.15, 1.28 0.08, 1.3 0.18, 1.33 0.12, 1.36 0.2, 1.4 0.15, 1.38 0.25, 1.43 0.22,
1.46 0.28, 1.5 0.24, 1.52 0.32, 1.48 0.35, 1.55 0.3, 1.57 0.38, 1.6 0.33, 1.62 0.4, 1.58 0.45, 1.64 0.47,
1.6 0.52, 1.66 0.44, 1.63 0.56, 1.57 0.58, 1.6 0.62, 1.53 0.64, 1.55 0.68, 1.48 0.66, 1.45 0.7, 1.4 0.68,
1.42 0.74, 1.35 0.72, 1.3 0.76, 1.27 0.7, 1.22 0.77, 1.18 0.74, 1.3 0.28, 1.45 0.4, 1.58 0.5, 1.65 0.3,
1.12 0.78, 1.05 0.73, 1.0 0.8, 0.95 0.72, 0.9 0.82, 0.85 0.76, 0.8 0.7, 0.75 0.83, 0.7 0.75, 0.65 0.81,
0.6 0.71, 0.55 0.84, 0.5 0.77, 0.45 0.7, 0.4 0.82, 0.35 0.76, 0.3 0.85, 0.25 0.72, 0.2 0.8, 0.15 0.86,
0.1 0.74, 0.05 0.83, 0.0 0.78, -0.05 0.85, -0.1 0.73, -0.15 0.81, -0.2 0.77, -0.25 0.84, -0.3 0.71, -0.35 0.8,
-0.4 0.76, -0.45 0.83, -0.5 0.72, -0.55 0.79, -0.6 0.74, -0.65 0.82, -0.7 0.7, -0.75 0.77, -0.8 0.72, -0.85 0.8,
-0.9 0.68, -0.95 0.75, -1.0 0.7, -1.05 0.77, -1.1 0.66, -1.15 0.72, -1.2 0.64, -1.25 0.7, -1.3 0.62, -1.35 0.66,
-1.4 0.6, -1.45 0.56, -1.38 0.55, 0.62 0.68, -0.02 0.7, 0.78 0.79,
-1.48 0.58, -1.45 0.52, -1.5 0.5, -1.42 0.47, -1.5 0.44, -1.46 0.42, -1.52 0.4, -1.44 0.38, -1.49 0.35, -1.41 0.4,
-1.47 0.3, -1.43 0.33, -1.38 0.36, -1.5 0.27, -1.4 0.29, -1.35 0.31, -1.45 0.25, -1.36 0.45, -1.48 0.46, -1.42 0.53,
-1.46 0.37, -1.39 0.5,
-1.33 0.27, -1.3 0.22, -1.27 0.3, -1.22 0.24, -1.18 0.28, -1.15 0.2, -1.1 0.25, -1.05 0.22, -1.28 0.34, -1.2 0.32,
-0.95 0.25, -0.9 0.2, -0.85 0.23, -0.78 0.18, -0.72 0.25, -0.65 0.21, -0.58 0.24, -0.5 0.19, -0.42 0.23, -0.35 0.18,
-0.28 0.24, -0.2 0.2, -0.12 0.22, -0.05 0.19, 0.02 0.24, 0.1 0.2, 0.18 0.23, 0.25 0.2, 0.32 0.24, 0.4 0.21, 0.47 0.25,
-0.62 0.14, -0.55 0.1, -0.48 0.15, -0.4 0.09, -0.32 0.13, -0.25 0.08, -0.18 0.12, -0.1 0.09, -0.02 0.15, 0.05 0.1,
0.12 0.13, 0.18 0.08, -0.45 0.12, -0.05 0.06,
0.52 0.26, 0.56 0.3, 0.6 0.24, 0.62 0.32, 0.66 0.27, 0.68 0.35, 0.72 0.3, 0.7 0.38, 0.75 0.36, 0.73 0.42,
0.77 0.44, 0.71 0.46, 0.74 0.5, 0.68 0.5, 0.7 0.54, 0.64 0.55, 0.75 0.4, 0.69 0.43, 0.72 0.33, 0.58 0.28, 0.76 0.47,
0.6 0.57, 0.55 0.6, 0.5 0.55, 0.45 0.61, 0.4 0.56, 0.35 0.63, 0.3 0.58, 0.25 0.62, 0.2 0.54, 0.15 0.6,
0.1 0.56, 0.05 0.63, 0.0 0.58, -0.05 0.65, -0.1 0.55, -0.15 0.6, -0.2 0.53, -0.25 0.59, -0.3 0.54, -0.35 0.6,
-0.4 0.52, -0.45 0.57, -0.5 0.53, -0.55 0.58, 0.32 0.52, -0.12 0.5,
-0.62 0.52, -0.6 0.48, -0.64 0.45, -0.58 0.44, -0.62 0.41, -0.65 0.38, -0.59 0.38, -0.61 0.35, -0.57 0.33, -0.63 0.49,
-0.6 0.42, -0.56 0.4, -0.64 0.55,
-0.52 0.32, -0.47 0.29, -0.42 0.33, -0.38 0.3, -0.33 0.35, -0.28 0.31, -0.24 0.36, -0.2 0.4, -0.16 0.43, -0.12 0.38,
-0.1 0.45, -0.08 0.41, -0.14 0.34, -0.45 0.36, -0.3 0.39,
1.08 0.84, 0.98 0.86, 0.88 0.7, 0.78 0.86, 0.68 0.7, 0.58 0.79, 0.48 0.85, 0.38 0.72, 0.28 0.79, 0.18 0.7,
0.08 0.8, -0.08 0.79, -0.18 0.86, -0.28 0.77, -0.38 0.85, -0.48 0.79, -0.58 0.84, -0.68 0.76, -0.78 0.82, -0.88 0.75,
-0.98 0.8, -1.08 0.73, -1.18 0.79, -1.28 0.68, 1.25 0.65, 1.35 0.62, 1.45 0.6, 1.52 0.55, 1.55 0.4, 1.5 0.3,
1.42 0.3, 1.33 0.22, 1.26 0.2, -1.47 0.48, -1.44 0.43, -1.38 0.42, -1.42 0.28, -0.6 0.55, -0.58 0.5, 0.72 0.39,
0.76 0.31, 0.2 0.64, 0.0 0.53, -0.3 0.6, -0.5 0.6, 0.45 0.52, -0.35 0.26, 0.0 0.28, 0.36 0.28
""")
p6_lower = pts("""
-1.25 0.03, -1.28 -0.02, -1.3 0.01, -1.33 -0.05, -1.27 -0.08, -1.35 -0.1, -1.31 -0.12, -1.38 -0.15, -1.42 -0.14, -1.4 -0.2,
-1.45 -0.22, -1.48 -0.19, -1.5 -0.26, -1.53 -0.24, -1.55 -0.3, -1.58 -0.28, -1.57 -0.35, -1.44 -0.17,
-1.6 -0.38, -1.63 -0.42, -1.66 -0.4, -1.62 -0.47, -1.68 -0.5, -1.65 -0.55, -1.7 -0.58, -1.64 -0.6, -1.72 -0.63, -1.67 -0.66,
-1.7 -0.7, -1.66 -0.74, -1.71 -0.77, -1.65 -0.8, -1.68 -0.83, -1.63 -0.86, -1.69 -0.68, -1.61 -0.52,
-1.62 -0.9, -1.58 -0.92, -1.6 -0.96, -1.55 -0.97, -1.52 -1.0, -1.56 -1.02, -1.5 -0.98, -1.48 -1.04,
-1.45 -1.08, -1.4 -1.1, -1.38 -1.15, -1.33 -1.12, -1.3 -1.18, -1.25 -1.16, -1.22 -1.21, -1.18 -1.19, -1.15 -1.24, -1.1 -1.22,
-1.07 -1.27, -1.03 -1.25, -1.42 -1.05, -1.28 -1.13,
-0.98 -1.3, -0.93 -1.33, -0.88 -1.28, -0.83 -1.35, -0.78 -1.31, -0.73 -1.37, -0.68 -1.33, -0.63 -1.4, -0.58 -1.36, -0.53 -1.42,
-0.48 -1.38, -0.43 -1.44, -0.38 -1.4, -0.33 -1.46, -0.28 -1.41, -0.23 -1.47, -0.18 -1.42, -0.13 -1.46, -0.08 -1.4, -0.03 -1.48,
0.02 -1.43, 0.07 -1.49, 0.12 -1.44, 0.17 -1.47, 0.22 -1.4, 0.27 -1.45, 0.32 -1.38, 0.37 -1.43, 0.42 -1.36, 0.47 -1.41,
-0.4 -1.36, 0.0 -1.38,
0.52 -1.34, 0.57 -1.3, 0.62 -1.33, 0.67 -1.28, 0.72 -1.31, 0.77 -1.26, 0.82 -1.29, 0.87 -1.23, 0.92 -1.27, 0.97 -1.21,
1.02 -1.24, 1.07 -1.18, 1.1 -1.22, 1.12 -1.15,
1.15 -1.12, 1.18 -1.08, 1.2 -1.12, 1.23 -1.05, 1.26 -1.09, 1.28 -1.02, 1.31 -0.98, 1.33 -1.03, 1.35 -0.94, 1.38 -0.9,
1.4 -0.95, 1.41 -0.86, 1.43 -0.83, 1.37 -0.98,
1.44 -0.78, 1.47 -0.75, 1.42 -0.72, 1.48 -0.69, 1.45 -0.66, 1.49 -0.62, 1.44 -0.6, 1.47 -0.57, 1.42 -0.54, 1.46 -0.51,
1.4 -0.49, 1.43 -0.46, 1.48 -0.73, 1.45 -0.7,
1.38 -0.44, 1.35 -0.4, 1.32 -0.42, 1.3 -0.37, 1.27 -0.34, 1.24 -0.38, 1.22 -0.31, 1.19 -0.28, 1.16 -0.32, 1.13 -0.25,
1.1 -0.22, 1.07 -0.27, 1.04 -0.2, 1.34 -0.36,
1.0 -0.2, 0.95 -0.15, 0.9 -0.19, 0.85 -0.13, 0.8 -0.17, 0.75 -0.12, 0.7 -0.16, 0.65 -0.1, 0.6 -0.14, 0.55 -0.08,
0.5 -0.12, 0.45 -0.06, 0.4 -0.1, 0.35 -0.05, 0.3 -0.09, 0.25 -0.04, 0.2 -0.08, 0.15 -0.12, 0.1 -0.06, 0.05 -0.1,
0.0 -0.14, -0.05 -0.09, -0.1 -0.16, -0.15 -0.12, -0.2 -0.19, -0.25 -0.14, -0.3 -0.2, -0.35 -0.16, -0.4 -0.22, -0.45 -0.18,
0.28 -0.13, 0.42 -0.14,
-0.5 -0.25, -0.55 -0.27, -0.6 -0.3, -0.52 -0.32, -0.62 -0.35, -0.57 -0.33, -0.49 -0.29,
-0.66 -0.38, -0.7 -0.4, -0.73 -0.44, -0.68 -0.47, -0.76 -0.5, -0.72 -0.53, -0.79 -0.56, -0.75 -0.6, -0.81 -0.63, -0.77 -0.66,
-0.8 -0.52, -0.74 -0.42,
-0.78 -0.71, -0.74 -0.75, -0.76 -0.79, -0.7 -0.8, -0.72 -0.85, -0.66 -0.84, -0.68 -0.89, -0.62 -0.88, -0.6 -0.92, -0.55 -0.9,
-0.52 -0.94,
-0.48 -0.95, -0.43 -0.98, -0.38 -0.94, -0.33 -1.0, -0.28 -0.97, -0.23 -1.03, -0.18 -0.99, -0.13 -1.05, -0.08 -1.0, -0.03 -1.06,
0.02 -1.01, 0.07 -1.05, 0.12 -0.99, 0.17 -1.03, 0.22 -0.97, 0.27 -1.0, 0.32 -0.94, 0.37 -0.97, 0.42 -0.9, -0.15 -0.93,
0.05 -0.95, 0.25 -0.92,
0.45 -0.88, 0.48 -0.85, 0.51 -0.82, 0.54 -0.79, 0.56 -0.75, 0.58 -0.72, 0.55 -0.69, 0.57 -0.66, 0.53 -0.63, 0.56 -0.61,
0.5 -0.59, 0.52 -0.86, 0.59 -0.78, 0.54 -0.71,
0.47 -0.57, 0.43 -0.54, 0.4 -0.58, 0.36 -0.52, 0.32 -0.56, 0.28 -0.53, 0.24 -0.58, 0.2 -0.55, 0.15 -0.6, 0.1 -0.57,
0.06 -0.6, 0.04 -0.64, 0.38 -0.5,
-1.29 -0.04, -1.34 -0.16, -1.46 -0.28, -1.52 -0.32, -1.64 -0.5, -1.68 -0.61, -1.67 -0.72, -1.62 -0.8, -1.57 -0.88, -1.5 -1.06,
-1.36 -1.17, -1.2 -1.25, -0.9 -1.36, -0.7 -1.41, -0.5 -1.46, -0.3 -1.37, -0.1 -1.5, 0.1 -1.41, 0.3 -1.48, 0.5 -1.38,
0.7 -1.27, 0.9 -1.3, 1.05 -1.27, 1.25 -1.14, 1.39 -0.99, 1.46 -0.84, 1.5 -0.67, 1.41 -0.62, 1.36 -0.47, 1.2 -0.34,
0.9 -0.22, 0.6 -0.1, 0.3 -0.12, 0.0 -0.07, -0.3 -0.13, -0.42 -0.27, -0.65 -0.33, -0.78 -0.45, -0.82 -0.6, -0.8 -0.68,
-0.64 -0.9, -0.4 -1.02, -0.2 -0.95, 0.1 -1.07, 0.3 -1.04, 0.46 -0.92, 0.58 -0.68, 0.5 -0.55, 0.2 -0.6
""")
p6_curve_x = [-1.83, -1.6, -1.39, -1.15, -0.92, -0.68, -0.44, -0.2, 0.03, 0.34, 0.58, 0.81, 1.13, 1.3, 1.44, 1.65, 1.865]
p6_curve_y = [0.373, 0.3, 0.233, 0.16, 0.1, 0.055, 0.024, 0.002, -0.012, -0.021, -0.017, -0.006, 0.018, 0.045, 0.084, 0.13, 0.188]

# ---- row 4: three blobs ----
p7_left = pts("""
-1.0 7.5, -1.3 7.8, -0.7 7.2, -1.5 7.3, -0.5 7.9, -1.2 8.3, -0.8 6.8, -1.8 7.6, -0.3 7.4, -1.4 8.6,
-0.6 8.4, -2.0 8.0, -1.1 6.5, -0.2 6.9, -1.7 6.8, -0.9 8.9, -2.2 7.2, -1.6 8.4, -0.4 8.2, -1.3 6.2,
-2.4 7.8, 0.0 7.8, -1.9 8.9, -0.7 6.0, -2.6 6.6, -1.5 9.0, 0.2 7.2, -2.3 8.5, -1.0 5.7, -0.1 8.5,
-2.8 7.1, -1.8 5.9, -0.5 9.2, 0.4 6.6, -2.1 9.3, -1.2 9.6, -3.0 7.8, -0.3 5.5, -2.5 6.0, 0.5 8.0,
-1.6 9.7, -3.2 7.3, 0.3 5.8, -2.9 8.8, -1.4 5.3, -3.4 6.8, -0.8 9.8, 0.6 9.3, -1.0 5.0, -2.2 5.2,
0.8 7.5, -3.6 7.7, 0.1 9.5, -1.25 8.5, -1.45 8.45, -1.6 8.55, -1.7 8.3, -0.95 7.3, -1.05 7.1, -0.85 7.0,
-1.9 6.3, -1.6 6.2, -2.0 6.1, -0.35 7.0, 0.15 6.0, 0.5 5.5, 1.0 6.0, 1.2 7.6, 1.0 8.0, 1.5 7.4,
0.55 6.2, 0.6 6.5, 0.45 6.1, -4.64 7.65, -4.48 7.37, -4.4 7.96, -4.12 9.21, -4.03 8.88, -3.97 8.04, -3.92 6.93,
-3.84 8.94, -3.75 7.37, -3.66 7.16, -3.6 6.87, -3.57 5.66, -3.51 9.05, -3.33 6.11, -3.23 7.74, -3.17 4.57, -3.09 9.89,
-3.03 6.81, -2.94 5.38, -2.9 9.26, -2.78 6.81, -2.57 10.13, -2.5 6.44, -2.42 4.96, -2.38 8.88, -2.3 9.92, -2.32 9.48,
-2.18 3.72, -2.12 5.1, -2.02 4.17, -1.51 10.63, -1.02 9.89, -0.62 10.66, -0.66 9.4, 0.0 9.55, 0.15 9.3, 0.86 9.25,
1.28 8.78, 1.79 9.89, 1.49 8.29, -0.3 4.3, -0.2 4.5, 0.5 4.6, 0.7 4.2, 1.43 4.76, 1.7 6.2, 1.8 7.4,
1.9 6.6, 1.4 5.0, -1.1 3.9
""")
p7_right = pts("""
4.5 7.3, 4.2 7.6, 4.8 7.0, 4.0 7.0, 5.0 7.8, 4.4 8.0, 3.8 7.7, 5.3 7.2, 4.6 6.6, 3.6 6.8,
5.5 8.0, 4.1 8.5, 3.9 6.3, 5.8 7.5, 4.9 8.6, 3.4 7.5, 5.2 6.4, 4.3 6.0, 6.0 6.8, 3.2 8.2,
5.6 8.8, 4.7 9.0, 3.0 6.9, 6.2 7.9, 3.7 9.0, 5.9 6.2, 4.4 5.6, 3.5 6.0, 6.4 7.2, 5.0 9.4,
2.8 7.6, 4.0 9.4, 6.5 6.6, 3.3 8.9, 5.7 5.8, 2.6 7.0, 6.6 8.4, 4.6 5.3, 3.1 6.3, 5.3 9.7,
2.5 8.3, 6.8 7.5, 3.6 9.6, 6.0 8.7, 4.9 5.7, 2.7 6.0, 3.8 5.4, 5.5 9.0, 6.3 6.0, 2.4 7.7,
4.3 9.8, 5.4 6.9, 4.7 7.6, 4.2 7.2, 3.9 7.4, 3.7 6.5, 4.1 6.7, 4.9 6.3, 5.1 7.6, 4.45 8.2,
3.3 6.7, 3.5 7.1, 2.9 8.9, 2.7 8.6, 2.5 7.1, 3.0 8.1, 2.6 5.5, 2.55 4.8, 2.45 4.5,
2.74 10.37, 2.56 9.28, 4.68 10.59, 3.89 10.59, 4.25 10.0, 4.59 9.89, 5.07 9.7, 5.55 9.7, 6.01 9.51, 6.72 8.93,
7.23 8.22, 7.47 7.92, 7.45 7.52, 7.9 6.84, 8.38 8.87, 6.78 6.17, 6.72 5.32, 6.08 5.4, 6.35 5.52, 5.59 4.92,
4.5 4.29, 2.35 5.1, 2.41 4.51, 2.41 4.78, 4.0 5.0, 5.4 5.8, 5.6 5.8, 6.5 7.4, 6.55 7.3, 6.85 6.2
""")
p7_bottom = pts("""
1.3 1.5, 1.0 1.8, 1.6 1.2, 0.8 1.3, 1.8 1.9, 1.2 2.2, 0.6 1.9, 2.0 1.4, 1.4 0.9, 0.4 1.4,
2.2 2.2, 1.7 2.6, 0.9 0.7, 0.2 2.0, 2.4 1.0, 1.1 2.7, 0.3 1.0, 2.6 1.8, 1.9 0.5, 0.7 2.5,
1.5 3.0, 0.0 1.5, 2.8 2.4, 1.2 0.2, -0.1 2.4, 2.3 2.9, 0.5 0.4, 1.8 3.3, 0.1 3.0, 2.9 1.2,
1.6 -0.2, -0.3 1.2, 2.6 0.2, 0.9 3.3, 3.1 2.7, -0.4 2.8, 1.0 -0.4, 2.2 -0.3, 0.4 3.2, 3.3 1.7,
-0.2 0.6, 1.3 3.6, 2.0 0.0, 0.6 -0.2, 2.9 0.7, -0.5 1.7, 1.8 -0.7, 0.8 2.9, 3.5 2.4, -0.6 3.1,
1.4 -1.0, 1.2 1.6, 1.5 1.7, 1.6 1.45, 1.7 1.7, 1.65 1.4, 1.75 1.2, 1.4 1.3, 1.1 1.2, 1.05 1.5,
0.95 2.3, 0.5 2.1, 1.3 2.4, 1.35 0.6, 2.5 2.5, 2.6 2.45, 2.7 0.9, 2.55 0.05, 2.1 -0.15, 2.15 -0.35,
0.15 1.1, 0.1 1.25, -0.4 1.8, -0.45 0.9, -0.9 0.55, -0.8 0.4, -0.95 2.6, -0.75 3.1, -1.2 2.25, -1.2 2.05,
-0.35 1.5, 3.2 0.65, 3.5 0.65, 3.45 1.3, 3.6 1.45, 3.9 2.65, 3.85 1.6,
-1.24 2.28, -1.21 1.09, -1.24 0.17, -1.09 3.1, -0.99 3.91, -0.85 2.59, -0.66 -1.09, -0.41 -0.67, 1.03 -1.0, 1.22 -1.0,
2.05 -1.2, 2.64 -1.2, 4.5 3.54, 4.22 3.2, 4.25 2.24, 4.59 -0.69, 3.31 -0.14, 3.07 -0.64, 3.47 0.61, 3.1 0.61,
2.7 -0.54, 1.67 3.91, -1.97 0.46, -2.15 -0.7, 3.79 2.68, 3.83 1.61, 3.55 2.65, 2.84 3.42, 0.17 3.72, 0.35 4.0
""")
p8_left = pts("""
-1.1 0.65, -1.3 0.8, -0.9 0.5, -1.2 0.4, -1.0 0.9, -1.4 0.6, -0.8 0.75, -1.15 1.0, -1.35 0.35, -0.95 0.3,
-1.5 0.85, -0.7 0.55, -1.25 1.15, -1.05 0.15, -1.6 0.5, -0.6 0.85, -1.45 1.05, -0.85 1.1, -1.7 0.75, -0.75 0.25,
-1.4 0.2, -1.0 1.25, -1.55 0.3, -0.55 0.5, -1.3 1.25, -0.65 1.0, -1.75 0.95, -1.2 0.05, -0.5 0.7, -1.65 0.4,
-0.9 1.3, -1.5 1.2, -0.45 0.35, -1.8 0.6, -0.8 0.0, -1.35 0.55, -1.2 0.7, -1.0 0.6, -0.95 0.75, -1.25 0.55,
-1.45 0.45, -1.05 0.45, -0.85 0.6, -1.15 0.85, -1.35 0.95, -1.55 0.7, -0.7 0.7, -1.1 0.35, -1.28 0.72, -0.98 1.05,
-1.62 1.0, -0.6 0.3, -1.4 0.75, -0.88 0.9, -1.18 0.25, -0.65 0.6, -1.5 0.55, -1.08 0.8, -1.85 0.4, -1.9 0.7,
-0.4 0.6, -0.35 0.7, -0.58 0.2, -1.42 0.95,
-2.17 0.61, -2.03 0.35, -1.84 0.39, -1.81 1.07, -1.51 -0.38, -1.41 -0.21, -1.04 -0.32, -1.04 -0.94, -0.99 -0.11, -0.93 1.41,
-0.44 1.14, -0.44 -0.06, -0.19 1.22, -0.17 0.16, -0.07 0.77, 0.01 0.22, -0.7 0.18, -0.55 0.05, -1.25 0.0, -1.65 0.17
""")
p8_right = pts("""
1.1 0.6, 0.9 0.75, 1.3 0.5, 0.8 0.45, 1.2 0.85, 1.45 0.65, 0.7 0.65, 1.0 0.35, 1.35 0.9, 0.6 0.85,
1.55 0.45, 0.95 1.0, 1.25 0.25, 0.5 0.5, 1.65 0.75, 0.85 0.2, 1.4 1.1, 0.65 0.3, 1.75 0.55, 1.05 1.15,
1.5 0.2, 0.45 0.8, 1.85 0.85, 0.75 1.05, 1.2 0.05, 0.55 0.15, 1.9 0.4, 1.3 1.25, 0.4 0.45, 1.6 1.0,
0.9 0.05, 2.0 0.65, 1.15 0.7, 1.0 0.55, 1.25 0.65, 0.95 0.6, 1.15 0.4, 1.35 0.75, 1.05 0.8, 0.8 0.6,
1.4 0.4, 1.2 0.95, 0.7 0.9, 1.55 0.65, 1.0 0.25, 1.3 0.35, 0.85 0.85, 1.45 0.85, 1.1 1.0, 0.6 0.6,
1.7 0.3, 1.8 0.65, 0.5 0.95, 1.5 1.25, 1.65 0.55, 0.35 0.6, 1.95 0.75, 1.2 0.15, 0.95 0.3, 1.05 0.5,
0.42 1.18, 0.56 1.44, 1.02 1.6, 1.13 1.49, 1.33 1.43, 1.68 1.5, 1.93 1.36, 2.07 1.44, 2.21 0.94, 2.19 0.51,
2.15 0.54, 1.95 0.27, 1.32 0.03, 0.64 0.02, 1.0 0.07, 0.25 0.26, 0.21 0.79, 0.3 0.45, 2.1 0.75, 1.9 0.3
""")
p8_bottom = pts("""
0.0 -1.35, -0.2 -1.2, 0.2 -1.5, -0.1 -1.6, 0.15 -1.15, -0.3 -1.45, 0.3 -1.3, -0.05 -1.05, 0.1 -1.75, -0.4 -1.25,
0.4 -1.45, -0.25 -1.7, 0.25 -1.0, -0.5 -1.5, 0.5 -1.2, -0.15 -0.9, 0.05 -1.9, -0.45 -1.05, 0.45 -1.7, -0.35 -0.85,
0.35 -0.9, -0.6 -1.3, 0.6 -1.4, -0.2 -1.95, 0.2 -0.8, -0.55 -1.75, 0.55 -1.0, 0.1 -1.4, -0.1 -1.3, 0.05 -1.55,
-0.05 -1.2, 0.15 -1.25, -0.15 -1.45, 0.25 -1.6, -0.3 -1.1, 0.3 -1.55, -0.25 -1.35, 0.0 -1.7, 0.4 -1.2, -0.4 -1.6,
0.1 -1.05, -0.65 -1.1, 0.7 -1.35, -0.1 -0.75, 0.2 -1.85, -0.5 -0.95, 0.45 -1.55, -0.7 -1.55, 0.65 -1.1, 0.0 -2.0,
0.12 -1.48, 0.18 -1.52, 0.22 -1.45, 0.08 -1.6, -0.08 -1.48, -0.35 -1.3, 0.32 -1.4, -0.2 -1.55, 0.28 -1.2, 0.5 -1.5,
0.8 -0.88, 0.93 -1.28, 0.67 -1.69, 0.65 -2.06, 0.3 -2.16, -0.23 -2.62, -0.29 -2.04, -0.68 -2.04, -0.54 -1.98, -0.9 -1.71,
-0.75 -1.64, -0.79 -1.35, 0.02 -1.97, 0.41 -1.85, -0.04 -0.56, 0.01 -0.59, 0.37 -0.6, 0.46 -0.74, 0.12 -0.65, -0.7 -0.88,
-0.65 -0.71, -0.51 -0.69
""")
p8_curve1_x = [-1.6, -1.35, -1.13, -0.85, -0.585, -0.38, -0.194, -0.08, 0.002, 0.07, 0.119, 0.17, 0.217, 0.28, 0.354, 0.48, 0.636]
p8_curve1_y = [-1.31, -1.12, -0.92, -0.7, -0.41, -0.2, 0.044, 0.23, 0.419, 0.6, 0.794, 1.0, 1.223, 1.42, 1.571, 1.74, 1.877]
p8_curve2_x = [0.19, 0.21, 0.217, 0.205, 0.198, 0.185, 0.178, 0.2, 0.276, 0.38, 0.511, 0.64, 0.785, 0.95, 1.098, 1.22, 1.325]
p8_curve2_y = [1.855, 1.65, 1.437, 1.22, 1.009, 0.82, 0.634, 0.37, 0.098, -0.07, -0.224, -0.34, -0.438, -0.52, -0.572, -0.575, -0.546]
p8_curve3_x = [-2.054, -1.8, -1.564, -1.27, -0.977, -0.68, -0.389, -0.15, 0.08, 0.394, 0.6, 0.785, 0.94, 1.059, 1.17, 1.255, 1.333]
p8_curve3_y = [-0.787, -0.87, -0.905, -0.85, -0.76, -0.64, -0.519, -0.46, -0.438, -0.454, -0.51, -0.6, -0.7, -0.84, -1.0, -1.189, -1.5]

BLUE = '#0000ff'
ORANGE = '#ef7d33'

fig = plt.figure(figsize=(W / 100, H / 100), dpi=100)


def make_ax(l, t, r, b, xlim, ylim, xstep, ystep, xfmt, yfmt, xlabel, ylabel):
    ax = fig.add_axes([l / W, 1 - b / H, (r - l) / W, (b - t) / H])
    ax.set_xlim(xlim)
    ax.set_ylim(ylim)
    ax.xaxis.set_major_locator(MultipleLocator(xstep))
    ax.yaxis.set_major_locator(MultipleLocator(ystep))
    ax.xaxis.set_minor_locator(AutoMinorLocator(2))
    ax.yaxis.set_minor_locator(AutoMinorLocator(2))
    ax.xaxis.set_major_formatter(FormatStrFormatter(xfmt))
    ax.yaxis.set_major_formatter(FormatStrFormatter(yfmt))
    ax.grid(True, which='major', color='#d9d9d9', lw=1.0)
    ax.set_axisbelow(True)
    ax.tick_params(which='both', direction='in', top=True, right=True, color='#222222')
    ax.tick_params(which='major', length=4, width=0.8, pad=4.5, labelsize=10.5)
    ax.tick_params(which='minor', length=2.5, width=0.8)
    for sp in ax.spines.values():
        sp.set_color('#222222')
        sp.set_linewidth(1.0)
    ax.set_xlabel(xlabel, fontsize=10.5, labelpad=8)
    ax.set_ylabel(ylabel, fontsize=10.5, labelpad=5)
    return ax


def dots(ax, p, s, lw):
    ax.scatter(p[:, 0], p[:, 1], s=s, facecolors='none', edgecolors=BLUE, linewidths=lw)


# row 1
ax1 = make_ax(69, 15.7, 491, 312, (-6, 8), (-6, 8), 2, 2, '%d', '%d', 'X1', 'X2')
dots(ax1, p1_low, 10, 0.65)
dots(ax1, p1_high, 10, 0.65)

ax2 = make_ax(598, 15.7, 1015, 310, (-3, 3), (-2.5, 2.5), 1, 0.5, '%d', '%.1f', 'PC1', 'PC2')
dots(ax2, p2_low, 10, 0.65)
dots(ax2, p2_high, 10, 0.65)
ax2.plot(p2_line_x, p2_line_y, color='#f29a5c', lw=1.0, ls=(0, (2, 1.3)))

# row 2
ax3 = make_ax(63.3, 375.7, 492, 678.3, (-4, 6), (-2, 5), 1, 1, '%d', '%d', 'X1', 'X2')
dots(ax3, p3_pts, 24, 1.0)

ax4 = make_ax(594, 371.7, 1016.3, 681, (-2.5, 2.5), (-2.5, 2.5), 0.5, 0.5, '%.1f', '%.1f', 'PC1', 'PC2')
dots(ax4, p4_pts, 24, 1.0)
ax4.plot(p4_curve_x, p4_curve_y, color=ORANGE, lw=1.5, ls=(0, (5, 3)))

# row 3
ax5 = make_ax(69, 768, 491, 1076, (-12, 18), (-10, 16), 2, 2, '%d', '%d', 'X1', 'X2')
dots(ax5, p5_arm_a, 20, 0.9)
dots(ax5, p5_arm_b, 20, 0.9)

ax6 = make_ax(592.3, 764.3, 1016.7, 1077, (-2, 2), (-1.8, 1.0), 0.5, 0.2, '%.1f', '%.1f', 'PC1', 'PC2')
dots(ax6, p6_upper, 7, 0.8)
dots(ax6, p6_lower, 7, 0.8)
ax6.plot(p6_curve_x, p6_curve_y, color=ORANGE, lw=1.5, ls=(0, (5, 3)))

# row 4
ax7 = make_ax(58.3, 1160, 497.7, 1474.7, (-6, 10), (-2, 12), 2, 2, '%d', '%d', 'X1', 'X2')
dots(ax7, p7_left, 7, 0.9)
dots(ax7, p7_right, 7, 0.9)
dots(ax7, p7_bottom, 7, 0.9)

ax8 = make_ax(594.3, 1161.7, 1020, 1472.7, (-2.5, 2.5), (-3, 2), 0.5, 0.5, '%.1f', '%.1f', 'PC1', 'PC2')
dots(ax8, p8_left, 7, 0.9)
dots(ax8, p8_right, 7, 0.9)
dots(ax8, p8_bottom, 7, 0.9)
for cx, cy in [(p8_curve1_x, p8_curve1_y), (p8_curve2_x, p8_curve2_y), (p8_curve3_x, p8_curve3_y)]:
    ax8.plot(cx, cy, color=ORANGE, lw=1.5, ls=(0, (5, 3)))

# orange outline arrows between the columns
for x0, yc in [(495, 168.3), (494, 527.5), (494, 925), (499, 1317)]:
    shape = [(x0, yc - 6.7), (x0 + 16.7, yc - 6.7), (x0 + 16.7, yc - 15), (x0 + 31.7, yc),
             (x0 + 16.7, yc + 15), (x0 + 16.7, yc + 6.7), (x0, yc + 6.7)]
    fig.add_artist(Polygon([(x / W, 1 - y / H) for x, y in shape], closed=True,
                           transform=fig.transFigure, facecolor='white', edgecolor=ORANGE, lw=1.6))

# captions
cap = dict(family='Liberation Serif', fontsize=16.8, va='baseline', color='#111111')
fig.text(43 / W, 1 - 1547 / H, 'a)', **cap)
fig.text(75 / W, 1 - 1547 / H, 'Distribution of features before the task of', **cap)
fig.text(75 / W, 1 - 1575 / H, 'separating features', **cap)
fig.text(565 / W, 1 - 1547 / H, 'b)', **cap)
fig.text(599 / W, 1 - 1547 / H, 'Distribution of feature mapping to a', **cap)
fig.text(599 / W, 1 - 1575 / H, 'component after the separation task', **cap)

fig.savefig('out.png', dpi=100, facecolor='white')
